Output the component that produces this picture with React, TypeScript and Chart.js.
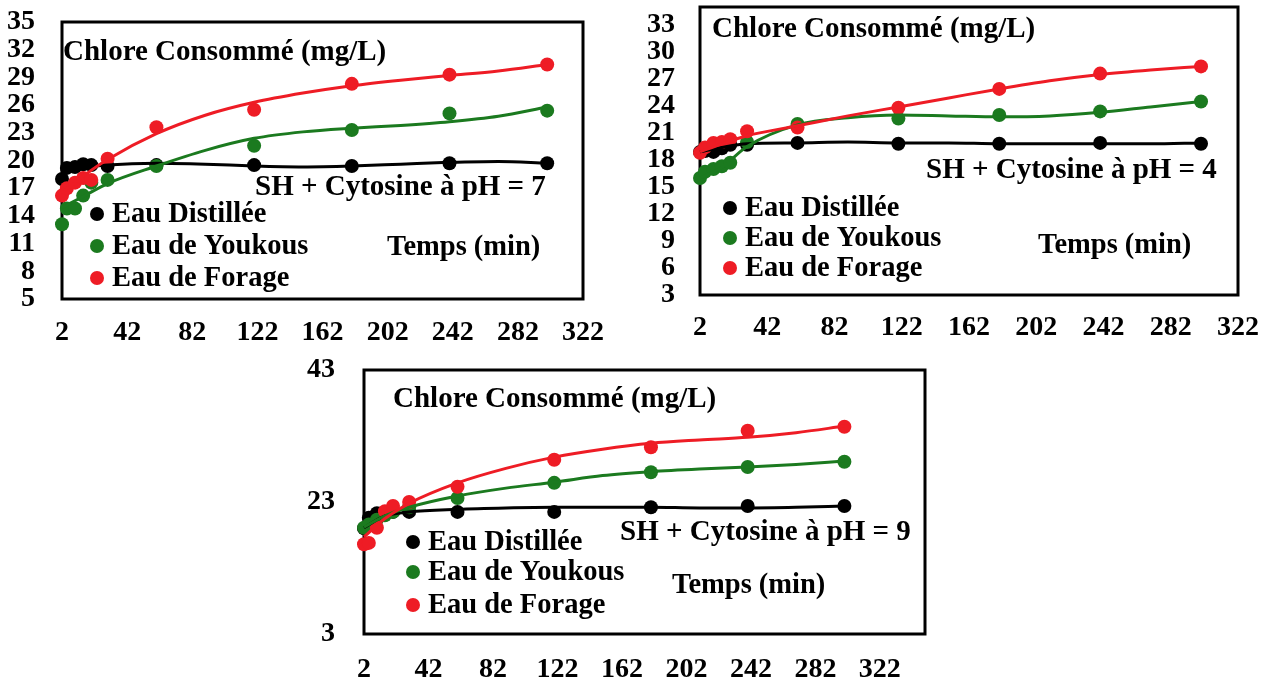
import { useEffect, useRef } from "react";
import { Chart, registerables } from "chart.js";

Chart.register(...registerables);

// Sampling times (min)
const times = [2, 5, 10, 15, 20, 30, 60, 120, 180, 240, 300];
// Times at which the fitted trend curves are sampled
const trendTimes = [2, 15, 30, 60, 90, 120, 150, 180, 210, 240, 270, 300];

const xTicks = [2, 42, 82, 122, 162, 202, 242, 282, 322];
const yTicksPH7 = [5, 8, 11, 14, 17, 20, 23, 26, 29, 32, 35];
const yTicksPH4 = [3, 6, 9, 12, 15, 18, 21, 24, 27, 30, 33];
const yTicksPH9 = [3, 23, 43];

const seriesNames = ["Eau Distillée", "Eau de Youkous", "Eau de Forage"];
const seriesColors = ["#000000", "#1b7a1f", "#ee1c25"];

const titleText = "Chlore Consommé (mg/L)";
const timeText = "Temps (min)";

// Chlore consommé (mg/L), SH + Cytosine à pH = 7
const distilleePH7 = [18.0, 19.2, 19.3, 19.6, 19.5, 19.4, 19.5, 19.5, 19.4, 19.7, 19.7];
const youkousPH7 = [13.1, 14.8, 14.8, 16.2, 17.6, 17.9, 19.4, 21.6, 23.3, 25.1, 25.4];
const foragePH7 = [16.2, 17.0, 17.6, 18.1, 17.9, 20.2, 23.6, 25.5, 28.3, 29.3, 30.4];
const distilleeTrendPH7 = [18.7, 19.2, 19.5, 19.7, 19.6, 19.4, 19.3, 19.4, 19.6, 19.8, 19.9, 19.7];
const youkousTrendPH7 = [14.9, 16.1, 17.5, 19.4, 21.1, 22.4, 23.1, 23.5, 23.8, 24.2, 24.8, 25.8];
const forageTrendPH7 = [16.5, 18.3, 20.1, 22.9, 24.9, 26.3, 27.3, 28.1, 28.7, 29.2, 29.7, 30.4];

// Chlore consommé (mg/L), SH + Cytosine à pH = 4
const distilleePH4 = [18.9, 19.0, 18.9, 19.3, 19.7, 19.7, 19.9, 19.8, 19.8, 19.9, 19.8];
const youkousPH4 = [16.0, 16.7, 17.0, 17.3, 17.7, 20.0, 22.0, 22.6, 23.0, 23.4, 24.5];
const foragePH4 = [18.8, 19.4, 19.9, 20.0, 20.3, 21.2, 21.6, 23.8, 25.9, 27.6, 28.4];
const distilleeTrendPH4 = [18.9, 19.4, 19.8, 19.9, 20.0, 19.9, 19.9, 19.8, 19.8, 19.8, 19.8, 19.9];
const youkousTrendPH4 = [16.0, 17.2, 19.5, 21.9, 22.7, 23.0, 22.9, 22.8, 22.9, 23.3, 23.9, 24.5];
const forageTrendPH4 = [18.9, 19.8, 20.7, 21.8, 22.9, 23.9, 24.9, 25.9, 26.8, 27.5, 28.0, 28.4];

// Chlore consommé (mg/L), SH + Cytosine à pH = 9
const distilleePH9 = [19.0, 20.6, 21.3, 21.4, 21.5, 21.5, 21.5, 21.5, 22.2, 22.4, 22.4];
const youkousPH9 = [19.1, 19.6, 20.3, 21.0, 21.5, 22.2, 23.6, 25.9, 27.5, 28.3, 29.1];
const foragePH9 = [16.6, 16.8, 19.1, 21.6, 22.4, 23.0, 25.3, 29.4, 31.3, 33.8, 34.4];
const distilleeTrendPH9 = [19.1, 20.9, 21.5, 21.9, 22.1, 22.2, 22.2, 22.2, 22.1, 22.1, 22.2, 22.4];
const youkousTrendPH9 = [19.2, 20.9, 22.2, 23.9, 25.1, 26.0, 27.0, 27.6, 28.0, 28.3, 28.7, 29.2];
const forageTrendPH9 = [17.7, 20.5, 22.8, 25.9, 28.1, 29.8, 31.0, 31.9, 32.4, 32.8, 33.5, 34.5];

const FONT_FAMILY = "'Liberation Serif', 'Times New Roman', serif";

type Box = { left: number; top: number; right: number; bottom: number };
type Frame = { left: number; top: number; width: number; height: number };

type Panel = {
  condition: string;
  values: number[][];
  trends: number[][];
  yTicks: number[];
  yMin: number;
  yMax: number;
  xMax: number;
  frame: Frame;
  box: Box;
  yLabelGap: number;
  xLabelGap: number;
  title: [number, number];
  conditionAt: [number, number];
  timeAt: [number, number];
  legendX: number;
  legendRows: number[];
};

const panels: Panel[] = [
  {
    condition: "SH + Cytosine à pH = 7",
    values: [distilleePH7, youkousPH7, foragePH7],
    trends: [distilleeTrendPH7, youkousTrendPH7, forageTrendPH7],
    yTicks: yTicksPH7,
    yMin: 5,
    yMax: 35,
    xMax: 322,
    frame: { left: 0, top: -40, width: 630, height: 390 },
    box: { left: 62, top: 22, right: 583, bottom: 299 },
    yLabelGap: 27,
    xLabelGap: 17,
    title: [63, 60],
    conditionAt: [255, 195],
    timeAt: [387, 255],
    legendX: 97,
    legendRows: [214, 246, 278],
  },
  {
    condition: "SH + Cytosine à pH = 4",
    values: [distilleePH4, youkousPH4, foragePH4],
    trends: [distilleeTrendPH4, youkousTrendPH4, forageTrendPH4],
    yTicks: yTicksPH4,
    yMin: 3,
    yMax: 35,
    xMax: 322,
    frame: { left: 640, top: -55, width: 650, height: 400 },
    box: { left: 700, top: 7, right: 1238, bottom: 295 },
    yLabelGap: 25,
    xLabelGap: 16,
    title: [712, 37],
    conditionAt: [926, 178],
    timeAt: [1038, 253],
    legendX: 730,
    legendRows: [208, 238, 268],
  },
  {
    condition: "SH + Cytosine à pH = 9",
    values: [distilleePH9, youkousPH9, foragePH9],
    trends: [distilleeTrendPH9, youkousTrendPH9, forageTrendPH9],
    yTicks: yTicksPH9,
    yMin: 3,
    yMax: 43,
    xMax: 350,
    frame: { left: 300, top: 310, width: 670, height: 374 },
    box: { left: 364, top: 370, right: 925, bottom: 634 },
    yLabelGap: 29,
    xLabelGap: 19,
    title: [393, 407],
    conditionAt: [620, 540],
    timeAt: [672, 593],
    legendX: 413,
    legendRows: [542, 572, 605],
  },
];

// Frame around the plot area, annotations and an inline legend
function makeDecor(panel: Panel) {
  const fx = panel.frame.left;
  const fy = panel.frame.top;
  return {
    id: "panelDecor",
    beforeDatasetsDraw(chart: Chart) {
      const { ctx, chartArea } = chart;
      ctx.save();
      ctx.lineWidth = 3;
      ctx.strokeStyle = "#000";
      ctx.strokeRect(
        chartArea.left,
        chartArea.top,
        chartArea.right - chartArea.left,
        chartArea.bottom - chartArea.top
      );

      ctx.fillStyle = "#000";
      ctx.textAlign = "left";
      ctx.textBaseline = "alphabetic";
      ctx.font = `bold 29px ${FONT_FAMILY}`;
      ctx.fillText(titleText, panel.title[0] - fx, panel.title[1] - fy);
      ctx.fillText(panel.condition, panel.conditionAt[0] - fx, panel.conditionAt[1] - fy);
      ctx.font = `bold 28.5px ${FONT_FAMILY}`;
      ctx.fillText(timeText, panel.timeAt[0] - fx, panel.timeAt[1] - fy);

      seriesNames.forEach((name, i) => {
        const cy = panel.legendRows[i] - fy;
        const cx = panel.legendX - fx;
        ctx.beginPath();
        ctx.fillStyle = seriesColors[i];
        ctx.arc(cx, cy, 7, 0, Math.PI * 2);
        ctx.fill();
        ctx.fillStyle = "#000";
        ctx.textBaseline = "middle";
        ctx.fillText(name, cx + 15, cy + 1);
      });
      ctx.restore();
    },
  };
}

function buildConfig(panel: Panel): any {
  const datasets: any[] = [];
  panel.values.forEach((vals, i) => {
    datasets.push({
      label: seriesNames[i],
      data: times.map((t, k) => ({ x: t, y: vals[k] })),
      showLine: false,
      pointRadius: 7,
      pointHoverRadius: 7,
      pointBackgroundColor: seriesColors[i],
      pointBorderColor: seriesColors[i],
      pointBorderWidth: 0,
      order: 10 - i,
      clip: false,
    });
  });
  panel.trends.forEach((vals, i) => {
    datasets.push({
      label: seriesNames[i],
      data: trendTimes.map((t, k) => ({ x: t, y: vals[k] })),
      showLine: true,
      borderColor: seriesColors[i],
      backgroundColor: seriesColors[i],
      borderWidth: 3,
      pointRadius: 0,
      pointHoverRadius: 0,
      cubicInterpolationMode: "monotone",
      order: 3 - i,
      clip: false,
    });
  });

  const tickFont = { family: FONT_FAMILY, size: 28, weight: "bold" as const };
  const { frame, box } = panel;

  return {
    type: "scatter",
    data: { datasets },
    options: {
      responsive: false,
      maintainAspectRatio: false,
      animation: false,
      devicePixelRatio: 1,
      events: [],
      layout: {
        padding: {
          top: box.top - frame.top,
          right: frame.left + frame.width - box.right,
          left: 0,
          bottom: 0,
        },
      },
      plugins: {
        legend: { display: false },
        tooltip: { enabled: false },
      },
      scales: {
        x: {
          type: "linear",
          min: 2,
          max: panel.xMax,
          grid: { display: false, drawTicks: false },
          border: { display: false },
          afterBuildTicks: (scale: any) => {
            scale.ticks = xTicks.map((v) => ({ value: v }));
          },
          afterFit: (scale: any) => {
            scale.height = frame.top + frame.height - box.bottom;
          },
          ticks: {
            color: "#000",
            font: tickFont,
            padding: panel.xLabelGap,
            autoSkip: false,
            maxRotation: 0,
            minRotation: 0,
          },
        },
        y: {
          type: "linear",
          min: panel.yMin,
          max: panel.yMax,
          grid: { display: false, drawTicks: false },
          border: { display: false },
          afterBuildTicks: (scale: any) => {
            scale.ticks = panel.yTicks.map((v) => ({ value: v }));
          },
          afterFit: (scale: any) => {
            scale.width = box.left - frame.left;
          },
          ticks: {
            color: "#000",
            font: tickFont,
            padding: panel.yLabelGap,
            autoSkip: false,
          },
        },
      },
    },
    plugins: [makeDecor(panel)],
  };
}

function PanelChart({ panel }: { panel: Panel }) {
  const ref = useRef<HTMLCanvasElement | null>(null);
  useEffect(() => {
    if (!ref.current) return;
    const chart = new Chart(ref.current, buildConfig(panel));
    return () => chart.destroy();
  }, [panel]);
  const { frame } = panel;
  return (
    <canvas
      ref={ref}
      width={frame.width}
      height={frame.height}
      style={{
        position: "absolute",
        left: frame.left,
        top: frame.top,
        width: frame.width,
        height: frame.height,
      }}
    />
  );
}

export default function App() {
  return (
    <div
      style={{
        position: "absolute",
        left: 0,
        top: 0,
        width: 1272,
        height: 684,
        overflow: "hidden",
        background: "#fff",
      }}
    >
      {panels.map((p, i) => (
        <PanelChart key={i} panel={p} />
      ))}
    </div>
  );
}
